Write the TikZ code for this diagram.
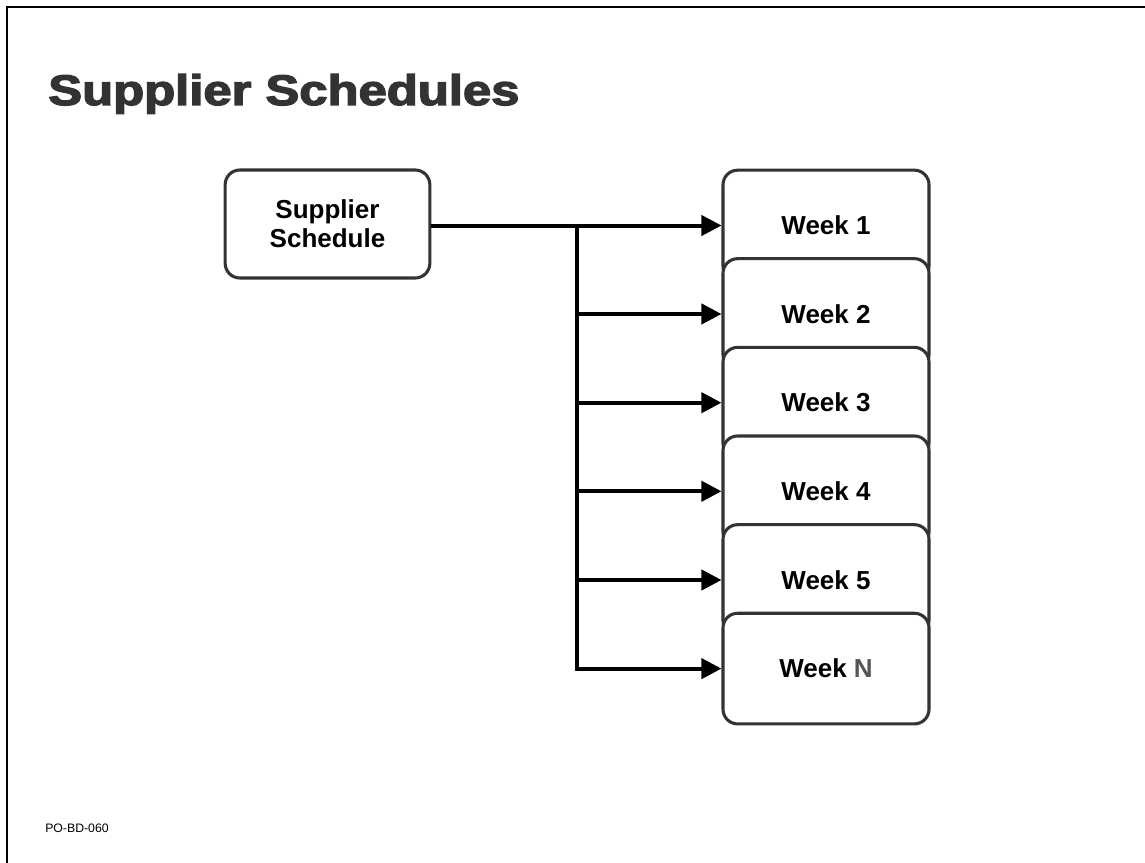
\documentclass[tikz,border=0pt]{standalone}
\usepackage{fontspec}
\setmainfont{Liberation Sans}
\newfontfamily\titlefont{Liberation Sans}[BoldFeatures={FakeBold=3}]
\usetikzlibrary{arrows.meta}
\definecolor{boxline}{HTML}{333333}
\definecolor{titlegray}{HTML}{333333}
\definecolor{ngray}{HTML}{555555}
\begin{document}
\begin{tikzpicture}[x=0.75pt,y=-0.75pt,
  frameline/.style={line width=2.2pt,black},
  rbox/.style={draw=boxline,line width=2.3pt,fill=white,rounded corners=11pt,
    align=center,font=\fontsize{19.5}{23}\selectfont\bfseries,inner sep=0pt},
  weekbox/.style={rbox,minimum width=154.5pt,minimum height=83pt},
  conn/.style={line width=3pt,black},
  arr/.style={conn,-{Triangle[length=15pt,width=15pt]}}]
\useasboundingbox (0,0) rectangle (1145,863);
% frame
\coordinate (ftl) at (7,7);
\coordinate (ftr) at (1145,7);
\coordinate (fbl) at (7,863);
\draw[frameline] (ftr) -- (ftl) -- (fbl);
% title
\node[anchor=base west,inner sep=0pt,text=titlegray] (title) at (48,105)
  {\scalebox{1.19}[1]{\titlefont\bfseries\fontsize{32}{38}\selectfont Supplier Schedules}};
% footer
\node[anchor=west,inner sep=0pt,font=\fontsize{9.2}{11}\selectfont] (foot) at (45,828) {PO-BD-060};
% source box
\node[rbox,minimum width=153.5pt,minimum height=81pt] (sup) at (327.5,224) {Supplier\\[-1pt]Schedule};
% week boxes
\node[weekbox] (w1) at (826,225.5) {Week 1};
\node[weekbox] (w2) at (826,314) {Week 2};
\node[weekbox] (w3) at (826,402.7) {Week 3};
\node[weekbox] (w4) at (826,491.3) {Week 4};
\node[weekbox] (w5) at (826,580) {Week 5};
\node[weekbox] (wn) at (826,668.6) {Week \textcolor{ngray}{N}};
% connectors
\coordinate (j1) at (577,225.5);
\draw[arr] (sup.east|-j1) -- (w1.west);
\coordinate (j6) at (577,668.6);
\draw[conn,line cap=rect] (j1) -- (j6);
\foreach \w in {w2,w3,w4,w5,wn}{
  \draw[arr] (j1|-\w.west) -- (\w.west);
}
\end{tikzpicture}
\end{document}
